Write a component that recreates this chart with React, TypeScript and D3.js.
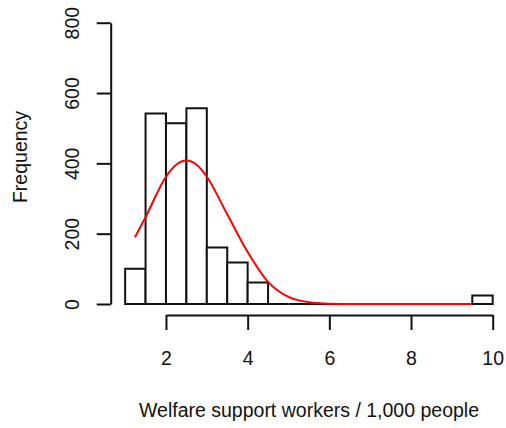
import { useEffect, useRef } from "react";
import * as d3 from "d3";

// histogram bins (left edges, width 0.5) and counts
const binStarts = [1, 1.5, 2, 2.5, 3, 3.5, 4, 4.5, 5, 5.5, 6, 6.5, 7, 7.5, 8, 8.5, 9, 9.5];
const counts = [100, 542, 514, 557, 161, 118, 61, 0, 0, 0, 0, 0, 0, 0, 0, 0, 0, 24];
const binWidth = 0.5;

// fitted density curve
const curveX = [1.24, 1.5, 2.0, 2.25, 2.5, 2.75, 3.0, 3.5, 4.0, 4.5, 5.0, 5.5, 6.0, 6.5, 7.0, 8.0, 9.0, 9.5];
const curveY = [190, 247, 362, 396, 408, 396, 362, 255, 148, 63, 20, 5, 1, 0, 0, 0, 0, 0];

const xTicks = [2, 4, 6, 8, 10];
const yTicks = [0, 200, 400, 600, 800];

const FONT = "'Liberation Sans', Arial, Helvetica, sans-serif";

export default function App() {
  const svgRef = useRef<SVGSVGElement>(null);

  useEffect(() => {
    if (!svgRef.current) return;
    const svg = d3.select(svgRef.current);
    svg.selectAll("*").remove();

    const x = d3.scaleLinear().domain([0, 10]).range([84.3, 492.7]);
    const y = d3.scaleLinear().domain([0, 800]).range([304, 22.7]);

    // Bars (paths so that empty bins still draw as a line on the baseline)
    svg
      .append("g")
      .selectAll("path")
      .data(binStarts.map((s, i) => ({ s, c: counts[i] })))
      .join("path")
      .attr("d", (d) => {
        const x0 = x(d.s), x1 = x(d.s + binWidth);
        const y0 = y(0), y1 = y(d.c);
        return `M${x0},${y0}V${y1}H${x1}V${y0}Z`;
      })
      .attr("fill", "#fff")
      .attr("stroke", "#111")
      .attr("stroke-width", 2);

    // Density line
    const line = d3
      .line<number>()
      .x((d) => x(d))
      .y((_, i) => y(curveY[i]))
      .curve(d3.curveMonotoneX);
    svg
      .append("path")
      .attr("d", line(curveX))
      .attr("fill", "none")
      .attr("stroke", "#ff0000")
      .attr("stroke-width", 2);

    // Y axis
    const gy = svg
      .append("g")
      .attr("transform", "translate(110.7,0)")
      .call(d3.axisLeft(y).tickValues(yTicks).tickSize(14).tickSizeOuter(0));
    gy.select(".domain").attr("stroke", "#111").attr("stroke-width", 2);
    gy.selectAll(".tick line").attr("stroke", "#111").attr("stroke-width", 2);
    gy.selectAll(".tick text")
      .attr("x", 0)
      .attr("y", -32)
      .attr("dy", 0)
      .attr("text-anchor", "middle")
      .attr("transform", "rotate(-90)")
      .attr("fill", "#111")
      .attr("font-size", "19.5px")
      .attr("font-family", FONT);

    // X axis
    const xa = d3.scaleLinear().domain([2, 10]).range([x(2), x(10)]);
    const gx = svg
      .append("g")
      .attr("transform", "translate(0,315)")
      .call(d3.axisBottom(xa).tickValues(xTicks).tickSize(15).tickSizeOuter(0));
    gx.select(".domain").attr("stroke", "#111").attr("stroke-width", 2);
    gx.selectAll(".tick line").attr("stroke", "#111").attr("stroke-width", 2);
    gx.selectAll(".tick text")
      .attr("y", 50)
      .attr("dy", 0)
      .attr("fill", "#111")
      .attr("font-size", "19.5px")
      .attr("font-family", FONT);

    // Axis titles
    svg
      .append("text")
      .attr("x", 309)
      .attr("y", 417)
      .attr("text-anchor", "middle")
      .attr("fill", "#111")
      .attr("font-size", "19.5px")
      .attr("font-family", FONT)
      .text("Welfare support workers / 1,000 people");

    svg
      .append("text")
      .attr("transform", "translate(27,157) rotate(-90)")
      .attr("text-anchor", "middle")
      .attr("fill", "#111")
      .attr("font-size", "19.5px")
      .attr("font-family", FONT)
      .text("Frequency");
  }, []);

  return (
    <svg
      ref={svgRef}
      width={506}
      height={428}
      style={{ position: "absolute", left: 0, top: 0, background: "#fff" }}
    />
  );
}
